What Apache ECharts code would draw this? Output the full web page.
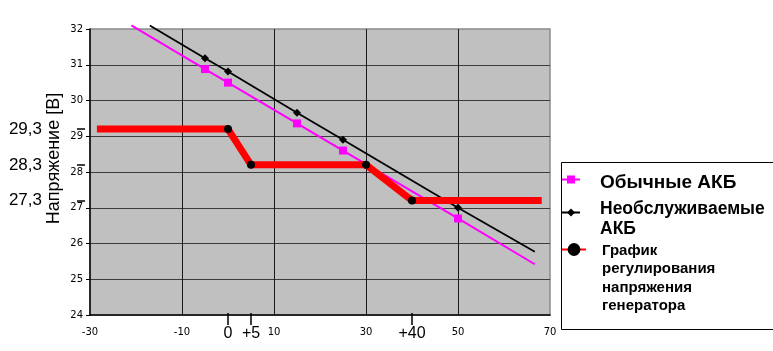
<!DOCTYPE html>
<html>
<head>
<meta charset="utf-8">
<script src="https://cdn.jsdelivr.net/npm/echarts@6/dist/echarts.min.js"></script>
<style>
html,body{margin:0;padding:0;background:#fff;}
#c{width:773px;height:351px;}
</style>
</head>
<body>
<div id="c"></div>
<script>
// ---- data ----
const seriesNames = ['Обычные АКБ', 'Необслуживаемые\nАКБ', 'График\nрегулирования\nнапряжения\nгенератора'];

const pinkX = [-21, -5, 0, 15, 25, 50, 66.7];
const pinkY = [32.1, 30.88, 30.5, 29.36, 28.6, 26.7, 25.42];
const pinkMarked = [false, true, true, true, true, true, false];

const blackX = [-17, -5, 0, 15, 25, 50, 66.7];
const blackY = [32.1, 31.18, 30.81, 29.66, 28.9, 27.0, 25.77];
const blackMarked = [false, true, true, true, true, true, false];

const redX = [-28.5, 0, 5, 30, 40, 68.2];
const redY = [29.2, 29.2, 28.2, 28.2, 27.2, 27.2];
const redMarked = [false, true, true, true, true, false];

const yRefValues = [29.2, 28.2, 27.2];
const yRefLabels = ['29,3', '28,3', '27,3'];
const xRefValues = [0, 5, 40];
const xRefLabels = ['0', '+5', '+40'];

const yName = 'Напряжение [В]';

function pts(xs, ys, marks) {
  return xs.map((x, i) => marks[i] ? { value: [x, ys[i]] } : { value: [x, ys[i]], symbol: 'none' });
}

function legendFmt(name) {
  return '{s| }\n' + name.split('\n').map(l => '{t|' + l + '}').join('\n');
}

function legendCfg(idx, top, itemWidth, itemHeight, fontSize, lineHeight, spacer, padLeft) {
  return {
    data: [seriesNames[idx]], orient: 'vertical', left: 561, top: top, padding: 0,
    itemWidth: itemWidth, itemHeight: itemHeight, selectedMode: false,
    formatter: legendFmt,
    textStyle: {
      padding: [0, 0, 0, padLeft],
      rich: {
        s: { fontSize: 1, lineHeight: spacer },
        t: { fontFamily: 'Liberation Sans, Arial', fontWeight: 'bold', fontSize: fontSize, lineHeight: lineHeight, color: '#000' }
      }
    }
  };
}

const chart = echarts.init(document.getElementById('c'), null, { renderer: 'canvas' });
const numFont = { fontFamily: 'DejaVu Sans', fontSize: 10, color: '#000' };

chart.setOption({
  animation: false,
  backgroundColor: '#fff',
  grid: {
    left: 90, right: 223, top: 29, bottom: 36,
    show: true, backgroundColor: '#c0c0c0', borderColor: '#8a8a8a', borderWidth: 1.5
  },
  xAxis: [
    {
      type: 'value', min: -30, max: 70, interval: 20,
      axisLine: { show: true, onZero: false, lineStyle: { color: '#000', width: 1.5 } },
      axisTick: { show: false },
      axisLabel: Object.assign({ margin: 12 }, numFont),
      splitLine: { show: true, showMinLine: false, showMaxLine: false, lineStyle: { color: '#1a1a1a', width: 1 } }
    },
    {
      type: 'value', min: -30, max: 70, position: 'bottom', offset: -2,
      axisLine: { show: true, onZero: false, lineStyle: { color: '#000', opacity: 0 } },
      axisTick: { show: true, inside: false, customValues: xRefValues, length: 12, lineStyle: { color: '#000', width: 1.5, opacity: 1 } },
      axisLabel: {
        show: true, customValues: xRefValues, margin: 13,
        fontFamily: 'Liberation Sans, Arial', fontSize: 16, color: '#000',
        formatter: v => { const i = xRefValues.indexOf(v); return i >= 0 ? xRefLabels[i] : ''; }
      },
      splitLine: { show: false }
    }
  ],
  yAxis: [
    {
      type: 'value', min: 24, max: 32, interval: 1,
      name: yName, nameLocation: 'middle', nameGap: 27, nameMoveOverlap: false,
      nameTextStyle: { fontFamily: 'Liberation Sans, Arial', fontSize: 18, color: '#000', padding: [0, 0, 0, 27] },
      axisLine: { show: true, onZero: false, lineStyle: { color: '#000', width: 1.5 } },
      axisTick: { show: true, length: 4, lineStyle: { color: '#000' } },
      axisLabel: Object.assign({ margin: 7 }, numFont),
      splitLine: { show: true, showMaxLine: false, showMinLine: false, lineStyle: { color: '#3c3c3c', width: 1 } }
    },
    {
      type: 'value', min: 24, max: 32, position: 'left', offset: 5,
      axisLine: { show: false, onZero: false },
      axisTick: { show: true, customValues: yRefValues, length: 8, lineStyle: { color: '#000', width: 1.5 } },
      axisLabel: {
        show: true, customValues: yRefValues, margin: 43,
        fontFamily: 'Liberation Sans, Arial', fontSize: 17, color: '#000',
        formatter: v => { const i = yRefValues.indexOf(v); return i >= 0 ? yRefLabels[i] : ''; }
      },
      splitLine: { show: false }
    }
  ],
  legend: [
    legendCfg(0, 169, 18, 10, 19, 20, 6, 15),
    legendCfg(1, 192, 18, 10, 17.5, 20, 14, 15),
    legendCfg(2, 212, 24, 16, 15, 18.5, 57.5, 11)
  ],
  graphic: [
    { type: 'rect', z: -1, shape: { x: 561.5, y: 162.5, width: 260, height: 167 }, style: { fill: '#fff', stroke: '#000', lineWidth: 1 } }
  ],
  series: [
    {
      name: seriesNames[0], type: 'line', clip: false,
      data: pts(pinkX, pinkY, pinkMarked),
      symbol: 'rect', symbolSize: 8,
      lineStyle: { color: '#ff00ff', width: 2 },
      itemStyle: { color: '#ff00ff' }
    },
    {
      name: seriesNames[1], type: 'line', clip: false,
      data: pts(blackX, blackY, blackMarked),
      symbol: 'diamond', symbolSize: 8,
      lineStyle: { color: '#000', width: 1.8 },
      itemStyle: { color: '#000' }
    },
    {
      name: seriesNames[2], type: 'line', clip: false,
      data: pts(redX, redY, redMarked),
      symbol: 'circle', symbolSize: 8,
      lineStyle: { color: '#ff0000', width: 7 },
      itemStyle: { color: '#000' }
    }
  ]
});
</script>
</body>
</html>
